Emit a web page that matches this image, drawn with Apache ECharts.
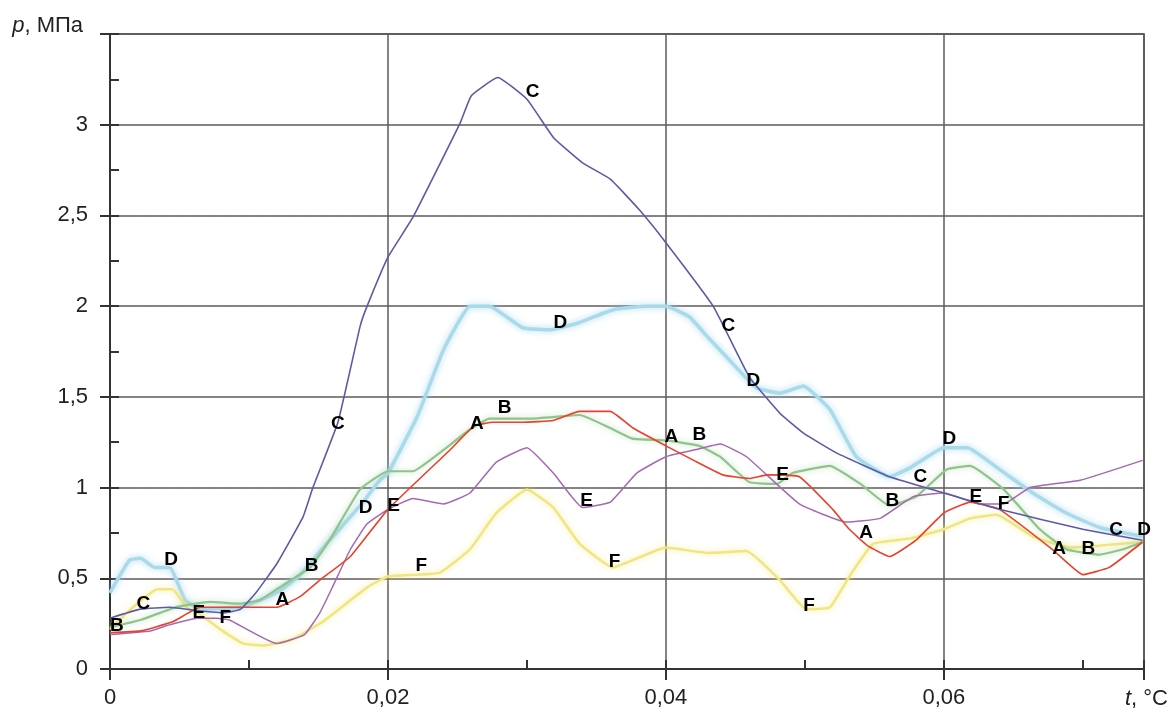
<!DOCTYPE html>
<html><head><meta charset="utf-8">
<script src="https://cdn.jsdelivr.net/npm/echarts@6/dist/echarts.min.js"></script>
<style>html,body{margin:0;padding:0;background:#fff}#c{width:1174px;height:715px}</style>
</head><body><div id="c"></div>
<script>
// ---- data ----
const xA = [0, 0.0022, 0.0045, 0.0065, 0.0094, 0.012, 0.0137, 0.0151, 0.0173, 0.02, 0.0245, 0.0262, 0.0276, 0.0297, 0.0319, 0.0338, 0.036, 0.0376, 0.04, 0.042, 0.0441, 0.046, 0.0473, 0.0496, 0.052, 0.0532, 0.0545, 0.0561, 0.058, 0.06, 0.0619, 0.064, 0.0678, 0.070, 0.0719, 0.0743];
const yA = [0.20, 0.21, 0.26, 0.34, 0.34, 0.34, 0.40, 0.49, 0.62, 0.88, 1.21, 1.34, 1.36, 1.36, 1.37, 1.42, 1.42, 1.33, 1.23, 1.15, 1.07, 1.05, 1.07, 1.06, 0.88, 0.77, 0.68, 0.62, 0.71, 0.86, 0.92, 0.88, 0.66, 0.52, 0.56, 0.70];
const xB = [0, 0.0022, 0.0047, 0.0072, 0.0094, 0.0108, 0.012, 0.0144, 0.0158, 0.018, 0.02, 0.0218, 0.0237, 0.0259, 0.0273, 0.0302, 0.0338, 0.0362, 0.0376, 0.04, 0.0424, 0.0439, 0.046, 0.048, 0.0491, 0.0518, 0.054, 0.0561, 0.058, 0.0602, 0.0619, 0.0643, 0.0669, 0.0688, 0.0712, 0.0729, 0.0743];
const yB = [0.23, 0.27, 0.34, 0.37, 0.36, 0.38, 0.44, 0.56, 0.71, 0.99, 1.09, 1.09, 1.19, 1.32, 1.38, 1.38, 1.40, 1.32, 1.27, 1.26, 1.23, 1.17, 1.03, 1.02, 1.08, 1.12, 1.02, 0.90, 0.95, 1.10, 1.12, 0.99, 0.77, 0.66, 0.63, 0.66, 0.70];
const xC = [0, 0.0022, 0.0043, 0.0065, 0.0083, 0.0094, 0.0105, 0.012, 0.0139, 0.0146, 0.0164, 0.018, 0.0185, 0.02, 0.0218, 0.0252, 0.026, 0.0279, 0.030, 0.0319, 0.034, 0.036, 0.0381, 0.04, 0.0434, 0.046, 0.0482, 0.0499, 0.0523, 0.0561, 0.06, 0.064, 0.070, 0.0743];
const yC = [0.28, 0.33, 0.34, 0.32, 0.31, 0.33, 0.42, 0.58, 0.84, 1.00, 1.36, 1.89, 2.00, 2.27, 2.49, 3.01, 3.16, 3.26, 3.14, 2.93, 2.79, 2.70, 2.53, 2.35, 2.00, 1.61, 1.41, 1.30, 1.19, 1.06, 0.97, 0.88, 0.77, 0.71];
const xD = [0, 0.0014, 0.0022, 0.0032, 0.0043, 0.0054, 0.0065, 0.0094, 0.0108, 0.0122, 0.0137, 0.0158, 0.018, 0.0194, 0.02, 0.0221, 0.024, 0.0259, 0.0273, 0.0297, 0.0317, 0.0338, 0.0362, 0.0386, 0.04, 0.0417, 0.043, 0.0446, 0.0465, 0.0482, 0.0499, 0.0518, 0.0537, 0.0561, 0.0576, 0.06, 0.0617, 0.064, 0.0664, 0.0688, 0.0712, 0.0743];
const yD = [0.42, 0.60, 0.61, 0.56, 0.56, 0.38, 0.33, 0.34, 0.38, 0.43, 0.52, 0.71, 0.90, 1.04, 1.08, 1.39, 1.76, 2.00, 2.00, 1.88, 1.87, 1.91, 1.98, 2.00, 2.00, 1.94, 1.83, 1.70, 1.55, 1.52, 1.56, 1.43, 1.17, 1.06, 1.11, 1.22, 1.22, 1.10, 0.97, 0.86, 0.78, 0.73];
const xE = [0, 0.0029, 0.0041, 0.0063, 0.0077, 0.0086, 0.012, 0.014, 0.0151, 0.016, 0.0173, 0.0185, 0.02, 0.0218, 0.024, 0.0259, 0.0278, 0.030, 0.0319, 0.034, 0.036, 0.0379, 0.04, 0.0422, 0.0439, 0.0458, 0.0496, 0.053, 0.0554, 0.0578, 0.06, 0.0626, 0.0643, 0.0662, 0.0698, 0.0743];
const yE = [0.19, 0.21, 0.24, 0.28, 0.28, 0.27, 0.14, 0.19, 0.31, 0.45, 0.66, 0.80, 0.88, 0.94, 0.91, 0.97, 1.14, 1.22, 1.08, 0.89, 0.92, 1.08, 1.17, 1.21, 1.24, 1.17, 0.91, 0.81, 0.83, 0.95, 0.97, 0.91, 0.91, 1.00, 1.04, 1.15];
const xF = [0, 0.0015, 0.0034, 0.0045, 0.0055, 0.0065, 0.0081, 0.0096, 0.011, 0.013, 0.0153, 0.0185, 0.02, 0.0237, 0.0259, 0.0278, 0.030, 0.0319, 0.0338, 0.0362, 0.04, 0.043, 0.0458, 0.0482, 0.0501, 0.0518, 0.0532, 0.0549, 0.0576, 0.06, 0.0619, 0.0638, 0.0664, 0.0691, 0.0712, 0.0743];
const yF = [0.22, 0.33, 0.44, 0.44, 0.34, 0.30, 0.21, 0.14, 0.13, 0.16, 0.26, 0.45, 0.51, 0.53, 0.66, 0.86, 0.99, 0.89, 0.69, 0.56, 0.67, 0.64, 0.65, 0.49, 0.33, 0.34, 0.51, 0.69, 0.72, 0.77, 0.83, 0.85, 0.73, 0.67, 0.68, 0.70];

// curve letter positions
const labA = [[0.0124, 0.38], [0.0264, 1.35], [0.0404, 1.28], [0.0544, 0.75], [0.0683, 0.66]];
const labB = [[0.0005, 0.24], [0.0145, 0.57], [0.0284, 1.44], [0.0424, 1.29], [0.0563, 0.93], [0.0704, 0.66]];
const labC = [[0.0024, 0.36], [0.0164, 1.35], [0.0304, 3.18], [0.0445, 1.89], [0.0583, 1.06], [0.0724, 0.77]];
const labD = [[0.0044, 0.60], [0.0184, 0.89], [0.0324, 1.91], [0.0463, 1.59], [0.0604, 1.27], [0.0744, 0.77]];
const labE = [[0.0064, 0.31], [0.0204, 0.90], [0.0343, 0.93], [0.0484, 1.07], [0.0623, 0.95]];
const labF = [[0.0083, 0.28], [0.0224, 0.57], [0.0363, 0.59], [0.0503, 0.35], [0.0643, 0.91]];

const xTickLabels = ['0', '0,02', '0,04', '0,06'];
const yTickLabels = ['0', '0,5', '1', '1,5', '2', '2,5', '3'];

// ---- chart ----
const zip = (xs, ys) => xs.map((x, i) => [x, ys[i]]);
const FONT = "'Liberation Sans', Arial, sans-serif";

function lineSeries(name, xs, ys, color, width, glow) {
  return {
    name, type: 'line', data: zip(xs, ys), showSymbol: false, smooth: 0.12,
    lineStyle: Object.assign({ color, width }, glow ? { shadowBlur: 6, shadowColor: glow } : {}),
    z: 3
  };
}
function labelSeries(letter, pts) {
  return {
    type: 'scatter', data: pts, symbolSize: 2, clip: false, silent: true,
    itemStyle: { color: 'rgba(0,0,0,0)' }, z: 10,
    label: { show: true, position: 'inside', formatter: letter, color: '#000', opacity: 1,
      fontFamily: FONT, fontWeight: 'bold', fontSize: 19 }
  };
}

const chart = echarts.init(document.getElementById('c'), null, { renderer: 'canvas' });
chart.setOption({
  animation: false,
  backgroundColor: '#fff',
  grid: { left: 110, right: 30, top: 34, bottom: 46, show: true, borderColor: '#3a3a3a', borderWidth: 1.5, backgroundColor: 'transparent' },
  xAxis: [{
    type: 'value', position: 'bottom', min: 0, max: 0.0744, interval: 0.02,
    name: '{i|t}, °C', nameLocation: 'end', nameGap: 24,
    nameTextStyle: { align: 'right', verticalAlign: 'middle', padding: [60, 0, 0, 0], fontFamily: FONT, fontSize: 22, color: '#222',
      rich: { i: { fontStyle: 'italic', fontFamily: FONT, fontSize: 22, color: '#222' } } },
    axisLine: { show: true, lineStyle: { color: '#333', width: 2 } },
    axisTick: { show: true, inside: false, length: 11, lineStyle: { color: '#333', width: 2 } },
    axisLabel: { margin: 18, fontFamily: FONT, fontSize: 22, color: '#222',
      formatter: v => { const k = Math.round(v / 0.02); return Math.abs(v - k * 0.02) < 1e-7 && k < xTickLabels.length ? xTickLabels[k] : ''; } },
    splitLine: { show: true, lineStyle: { color: '#625858', width: 1.5 } }
  }, {
    type: 'value', position: 'bottom', min: 0, max: 0.0744, interval: 0.01,
    axisLine: { show: false }, axisLabel: { show: false }, splitLine: { show: false },
    axisTick: { show: true, inside: true, length: 9, lineStyle: { color: '#333', width: 2 } }
  }],
  yAxis: [{
    type: 'value', position: 'left', min: 0, max: 3.5, interval: 0.5,
    name: '{i|p}, МПа', nameLocation: 'end', nameGap: 0,
    nameTextStyle: { align: 'right', verticalAlign: 'middle', padding: [0, 27, 16, 0], fontFamily: FONT, fontSize: 22, color: '#222',
      rich: { i: { fontStyle: 'italic', fontFamily: FONT, fontSize: 22, color: '#222' } } },
    axisLine: { show: true, lineStyle: { color: '#333', width: 2 } },
    axisTick: { show: true, inside: false, length: 10, lineStyle: { color: '#333', width: 2 } },
    axisLabel: { margin: 22, fontFamily: FONT, fontSize: 22, color: '#222',
      formatter: v => { const k = Math.round(v / 0.5); return Math.abs(v - k * 0.5) < 1e-7 && k < yTickLabels.length ? yTickLabels[k] : ''; } },
    splitLine: { show: true, lineStyle: { color: '#625858', width: 1.5 } }
  }, {
    type: 'value', position: 'left', min: 0, max: 3.5, interval: 0.25,
    axisLine: { show: false }, axisLabel: { show: false }, splitLine: { show: false },
    axisTick: { show: true, inside: true, length: 9, lineStyle: { color: '#333', width: 2 } }
  }],
  series: [
    lineSeries('D', xD, yD, '#a9daea', 3.5, 'rgba(150,210,235,0.8)'),
    lineSeries('F', xF, yF, '#efe67e', 2.5, 'rgba(240,232,130,0.8)'),
    lineSeries('B', xB, yB, '#8fc48a', 2.2, 'rgba(150,200,150,0.6)'),
    lineSeries('E', xE, yE, '#a468b4', 1.5),
    lineSeries('A', xA, yA, '#e8412c', 1.6),
    lineSeries('C', xC, yC, '#5c5aa8', 1.6),
    labelSeries('A', labA), labelSeries('B', labB), labelSeries('C', labC),
    labelSeries('D', labD), labelSeries('E', labE), labelSeries('F', labF)
  ]
});
</script></body></html>
